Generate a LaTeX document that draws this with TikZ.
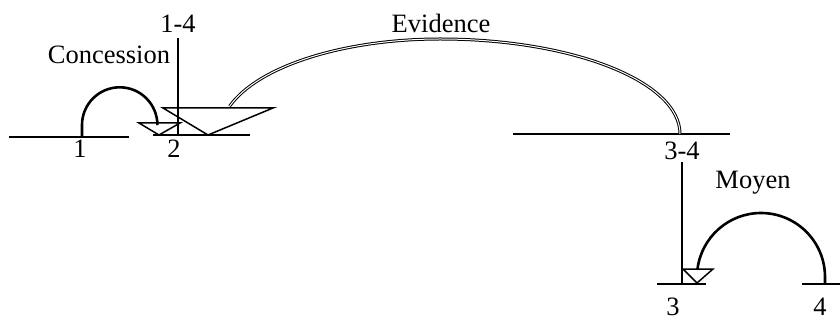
\documentclass[tikz,border=0pt]{standalone}
\usepackage{fontspec}
\setmainfont{Liberation Serif}
\begin{document}
\begin{tikzpicture}[x=1pt,y=-1pt,
  lbl/.style={anchor=base,inner sep=0pt,font=\fontsize{26.5}{30}\selectfont},
  seg/.style={line width=1.5pt},
  arcline/.style={line width=2.6pt},
  dbl/.style={double,double distance=1pt,line width=1pt},
  tri/.style={line width=1.5pt,fill=white}]
\useasboundingbox (0,0) rectangle (840,320);
% base lines
\coordinate (l1a) at (9,137);   \coordinate (l1b) at (129,137);
\coordinate (l2a) at (153,135); \coordinate (l2b) at (250,135);
\coordinate (l34a) at (513,134);\coordinate (l34b) at (730,134);
\coordinate (l3a) at (657,284); \coordinate (l3b) at (706,284);
\coordinate (l4a) at (802,284); \coordinate (l4b) at (840,284);
\draw[seg] (l1a) -- (l1b);
\draw[seg] (l2a) -- (l2b);
\draw[seg] (l34a) -- (l34b);
\draw[seg] (l3a) -- (l3b);
\draw[seg] (l4a) -- (l4b);
% vertical lines
\coordinate (v14t) at (178,38);  \coordinate (v14b) at (178,135);
\coordinate (v34t) at (682,162); \coordinate (v34b) at (682,284);
\draw[seg] (v14t) -- (v14b);
\draw[seg] (v34t) -- (v34b);
% triangles
\draw[tri] (139,123) coordinate (st1) -- (180,123) -- (159,135) -- cycle;
\draw[tri] (163,108) coordinate (bt) -- (273,108) -- (208,135) -- cycle;
\draw[seg] (178,108) -- (178,135);
\draw[tri] (683,269) coordinate (st3) -- (713,269) -- (697,283) -- cycle;
% arcs
\draw[arcline] (82,137) -- (82,125) arc[start angle=180,end angle=360,radius=37.7] -- (157.4,123);
\draw[arcline] (825,284) -- (825,277) arc[start angle=0,end angle=-173,radius=64];
\draw[dbl] (680,134) arc[start angle=0,end angle=-90,x radius=240,y radius=95]
  arc[start angle=-90,end angle=-163,x radius=220,y radius=95];
% labels
\node[lbl] (t14) at (178,33) {1-4};
\node[lbl] (tcon) at (109,64) {Concession};
\node[lbl] (t1) at (80,158) {1};
\node[lbl] (t2) at (174,158) {2};
\node[lbl] (tev) at (441,33) {Evidence};
\node[lbl] (t34) at (682,160) {3-4};
\node[lbl] (tmoy) at (753,189) {Moyen};
\node[lbl] (t3) at (673,315) {3};
\node[lbl] (t4) at (820,315) {4};
\end{tikzpicture}
\end{document}
